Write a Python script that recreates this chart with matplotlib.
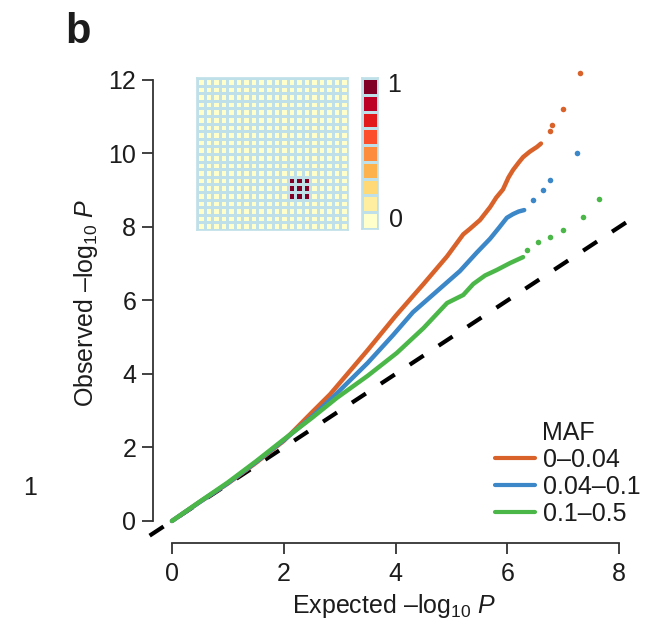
import matplotlib
matplotlib.use("Agg")
import matplotlib.pyplot as plt
from matplotlib.colors import ListedColormap
import numpy as np

plt.rcParams['font.family'] = ['Liberation Sans', 'DejaVu Sans']
plt.rcParams['mathtext.fontset'] = 'custom'
plt.rcParams['mathtext.rm'] = 'Liberation Sans'
plt.rcParams['mathtext.it'] = 'Liberation Sans:italic'

# ---- data ----
series_labels = ["0\u20130.04", "0.04\u20130.1", "0.1\u20130.5"]
series_colors = ["#D9622B", "#3B87C8", "#4BB749"]

orange_exp = [0, 0.5, 1, 1.5, 2, 2.5, 2.83, 3.5, 4, 4.5, 4.92, 5.21, 5.33, 5.51, 5.69, 5.8,
              5.92, 6.02, 6.1, 6.2, 6.28, 6.4, 6.53, 6.6]
orange_obs = [0, 0.52, 1.02, 1.58, 2.18, 2.95, 3.45, 4.65, 5.58, 6.45, 7.2, 7.8, 7.95, 8.19, 8.54, 8.8,
              9.02, 9.35, 9.55, 9.75, 9.9, 10.05, 10.18, 10.27]
orange_tail_exp = [6.76, 6.8, 7.0, 7.3]
orange_tail_obs = [10.62, 10.78, 11.22, 12.19]

blue_exp = [0, 0.5, 1, 1.5, 2, 2.5, 2.88, 3.5, 3.95, 4.31, 4.79, 5.15, 5.45, 5.69, 5.85, 5.99,
            6.1, 6.2, 6.3]
blue_obs = [0, 0.52, 1.03, 1.6, 2.2, 2.83, 3.37, 4.3, 5.05, 5.68, 6.32, 6.8, 7.3, 7.68, 7.98, 8.25,
            8.35, 8.42, 8.46]
blue_tail_exp = [6.46, 6.64, 6.76, 7.25]
blue_tail_obs = [8.73, 9.0, 9.28, 10.0]

green_exp = [0, 0.5, 1, 1.5, 2, 2.5, 2.95, 3.5, 4.02, 4.5, 4.92, 5.21, 5.39, 5.6, 5.81, 6.05, 6.28]
green_obs = [0, 0.53, 1.05, 1.62, 2.22, 2.8, 3.35, 3.95, 4.57, 5.25, 5.93, 6.15, 6.45, 6.68, 6.83,
             7.02, 7.18]
green_tail_exp = [6.35, 6.55, 6.76, 7.0, 7.35, 7.64]
green_tail_obs = [7.37, 7.59, 7.73, 7.92, 8.27, 8.76]

diag = [-0.4, 8.3]

x_ticks = [0, 2, 4, 6, 8]
y_ticks = [0, 2, 4, 6, 8, 10, 12]

# inset heatmap: 20x20 grid, 3x3 block of value 1
grid_n = 20
block_rows = [13, 14, 15]
block_cols = [12, 13, 14]
cbar_levels = 9
cbar_colors = ["#FFFFCC", "#FFEDA0", "#FED976", "#FEB24C", "#FD8D3C",
               "#FC4E2A", "#E31A1C", "#BD0026", "#800026"]

# ---- figure ----
W, H = 652, 637
FS = 18
TXT = "#1c1c1c"
fig = plt.figure(figsize=(W / 100, H / 100), dpi=100)

ax = fig.add_axes([153 / W, 1 - 543 / H, (636 - 153) / W, (543 - 61.6) / H])
ax.set_xlim(-0.34, 8.3)
ax.set_ylim(-0.6, 12.5)

ax.plot(diag, diag, color="black", lw=3, dashes=(4, 4.3), clip_on=False, zorder=1,
        solid_capstyle="butt", dash_capstyle="butt")

series = [(orange_exp, orange_obs, orange_tail_exp, orange_tail_obs),
          (blue_exp, blue_obs, blue_tail_exp, blue_tail_obs),
          (green_exp, green_obs, green_tail_exp, green_tail_obs)]
for (ex, ob, tex, tob), col, lab in zip(series, series_colors, series_labels):
    ax.plot(ex, ob, color=col, lw=3.2, solid_capstyle="round", solid_joinstyle="round",
            label=lab, zorder=3)
    ax.plot(tex, tob, "o", color=col, ms=4, mew=0, zorder=3)

for s in ["top", "right"]:
    ax.spines[s].set_visible(False)
ax.spines["bottom"].set_bounds(0, 8)
ax.spines["left"].set_bounds(0, 12)
for s in ["bottom", "left"]:
    ax.spines[s].set_linewidth(1.3)
    ax.spines[s].set_color("#333333")
ax.set_xticks(x_ticks)
ax.set_yticks(y_ticks)
ax.tick_params(direction="out", length=8, width=1.3, color="#333333",
               labelsize=FS, labelcolor=TXT)
ax.tick_params(axis="x", pad=6)
ax.tick_params(axis="y", pad=4)
ax.set_xlabel("Expected \u2013log$_{10}$ $P$", fontsize=FS, color=TXT, labelpad=4)
ax.set_ylabel("Observed \u2013log$_{10}$ $P$", fontsize=FS, color=TXT, labelpad=6)

leg = ax.legend(title="MAF", loc="lower right", bbox_to_anchor=(1.03, 0.015), frameon=False,
                fontsize=FS, title_fontsize=FS, handlelength=1.6, handletextpad=0.3,
                labelspacing=0.12, borderaxespad=0)
for h in leg.get_lines():
    h.set_linewidth(3)
leg.get_title().set_color(TXT)
for t in leg.get_texts():
    t.set_color(TXT)

# panel letter and stray neighbour label
fig.text(65 / W, 1 - 32 / H, "b", fontsize=30, fontweight="bold", va="center", ha="left", color=TXT)
fig.text(30 / W, 1 - 488 / H, "1", fontsize=FS, va="center", ha="center", color=TXT)

# inset heatmap
edge = "#BFE0E8"
iax = fig.add_axes([197 / W, 1 - 230 / H, 151 / W, 152 / H])
mat = np.zeros((grid_n, grid_n))
for r in block_rows:
    for c in block_cols:
        mat[r, c] = 1.0
cmap = ListedColormap(cbar_colors)
iax.pcolormesh(mat, cmap=cmap, vmin=0, vmax=1, edgecolors=edge, linewidth=0.9)
iax.set_xlim(0, grid_n)
iax.set_ylim(grid_n, 0)
iax.set_xticks([])
iax.set_yticks([])
for s in iax.spines.values():
    s.set_color(edge)
    s.set_linewidth(1.2)

# inset colour bar
cax = fig.add_axes([362 / W, 1 - 229 / H, 16 / W, 151 / H])
levels = np.arange(cbar_levels).reshape(-1, 1)
cax.pcolormesh(levels, cmap=cmap, vmin=0, vmax=cbar_levels - 1, edgecolors=edge, linewidth=1.0)
cax.set_xlim(0, 1)
cax.set_ylim(0, cbar_levels)
cax.set_xticks([])
cax.set_yticks([])
for s in cax.spines.values():
    s.set_color(edge)
    s.set_linewidth(1.2)
cax.text(1.6, 1.03, "1", transform=cax.transAxes, fontsize=FS, va="top", ha="left", color=TXT)
cax.text(1.7, -0.02, "0", transform=cax.transAxes, fontsize=FS, va="bottom", ha="left", color=TXT)

fig.savefig("out.png", dpi=100)
